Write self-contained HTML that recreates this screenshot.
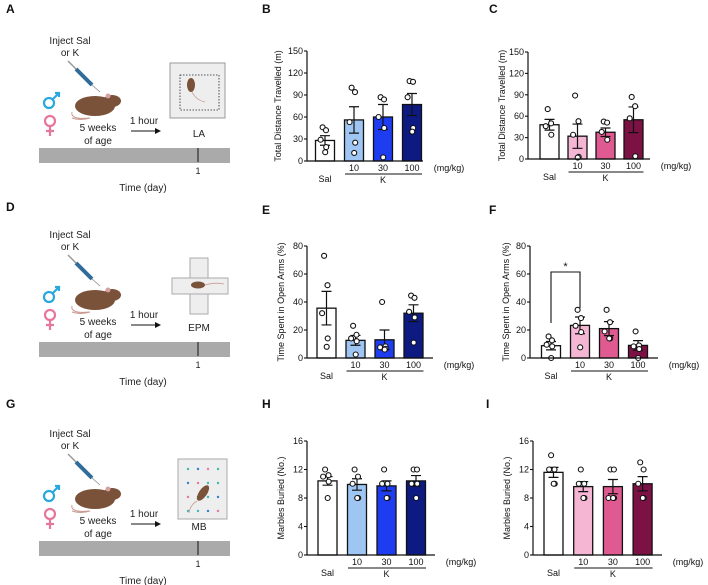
<!DOCTYPE html>
<html><head><meta charset="utf-8">
<style>
html,body{margin:0;padding:0;background:#fff;}
svg{display:block;font-family:"Liberation Sans",Arial,sans-serif;}
</style></head>
<body>
<svg id="fig" width="708" height="585" viewBox="0 0 708 585" xmlns="http://www.w3.org/2000/svg">
<g id="schem"></g>
<g id="charts"></g>
</svg>
<script>
// ---- data ----
const groups = ["Sal","10","30","100"];
const bMeans = [28,56,60,77];
const bSems = [6.5,18,17,15];
const bPoints = [[46,42,29,19,12],[100,94,53,25,11],[87,84,60,45,5],[109,108,87,45,40]];
const cMeans = [48,32,37.5,55];
const cSems = [7.5,17,6,18];
const cPoints = [[70,50,46,34],[89,53,34,3,2],[52.5,51,38,27],[87,74,57,4]];
const eMeans = [35.6,12.6,13,32];
const eSems = [12,3.5,7,6];
const ePoints = [[73,52,32,14,8],[23,16.6,14,12,2.5],[40,8.3,7.6,6.6,6],[44.6,43,33,29,11]];
const fMeans = [8.8,23.3,21,9];
const fSems = [3,6,5,3.4];
const fPoints = [[15.4,12.6,9.5,8.3,0],[34.4,28.5,23,18.5,7.6],[34.4,25.6,19,14,14],[19,9,8.3,6.4,0]];
const hMeans = [10.4,9.9,9.7,10.4];
const hSems = [0.6,0.8,0.7,0.75];
const hPoints = [[12,11.2,11,10.3,8],[12,11,10,8,8],[12,10,10,8,8],[12,12,10,10,8]];
const iMeans = [11.6,9.6,9.6,10];
const iSems = [0.7,0.7,1,1];
const iPoints = [[14,12,12,10,10],[12,10,10,8,8],[12,12,8,8,8],[13,12,10,8,8]];
const yTicksDist = [0,30,60,90,120,150];
const yTicksPct = [0,20,40,60,80];
const yTicksMB = [0,4,8,12,16];

const NS="http://www.w3.org/2000/svg";
function mk(tag,attrs,parent,txt){const e=document.createElementNS(NS,tag);for(const k in attrs)e.setAttribute(k,attrs[k]);if(txt!==undefined)e.textContent=txt;parent.appendChild(e);return e;}

const charts=document.getElementById('charts');
const blue=["#ffffff","#9fc6f2","#1f3df0","#0c1a82"];
const pink=["#ffffff","#f4b6d3","#df5a90","#7c1244"];

function panel(id,cfg,means,sems,points,ticks,colors,title,letter){
  const g=mk('g',{},charts);
  
  
  const yMax=ticks[ticks.length-1];
  const ys=v=>cfg.y0-(v/yMax)*(cfg.y0-cfg.yTop);
  const xs=i=>cfg.ax+cfg.first+i*cfg.sp;
  const L=mk('text',{x:cfg.letterX,y:cfg.letterY,'font-size':12,'font-weight':'bold',fill:'#111'},g,letter);
  
  
  const bw=19;
  means.forEach((m,i)=>{
    const r=mk('rect',{x:xs(i)-bw/2,y:ys(m),width:bw,height:cfg.y0-ys(m),fill:colors[i],stroke:'#111','stroke-width':1.3},g);
    
    
  });
  means.forEach((m,i)=>{
    const x=xs(i),t=ys(m+sems[i]),b=ys(m-sems[i]);
    const e=mk('path',{d:`M${x},${t}V${b}M${x-5},${t}H${x+5}M${x-5},${b}H${x+5}`,stroke:'#111','stroke-width':1.2,fill:'none'},g);
    
    
  });
  points.forEach((arr,i)=>{
    const n=arr.length;
    arr.forEach((v,j)=>{
      const off=(j%2===0?-1:1)*((j%3)*2.2);
      const c=mk('circle',{cx:xs(i)+off+(j-(n-1)/2)*1.2,cy:ys(v),r:2.5,fill:'#fff',stroke:'#111','stroke-width':1.1},g);
      
      
    });
  });
  const ax=mk('path',{d:`M${cfg.ax},${cfg.yTop}V${cfg.y0}H${cfg.xEnd}`,stroke:'#111','stroke-width':1.2,fill:'none'},g);
  
  
  ticks.forEach(t=>{
    mk('line',{x1:cfg.ax-3,x2:cfg.ax,y1:ys(t),y2:ys(t),stroke:'#111','stroke-width':1.1},g);
    const tl=mk('text',{x:cfg.ax-4,y:ys(t)+3,'font-size':9,'text-anchor':'end',fill:'#111'},g,String(t));
    
    
  });
  for(let i=1;i<4;i++){
    const xl=mk('text',{x:xs(i),y:cfg.y0+10,'font-size':9,'text-anchor':'middle',fill:'#111'},g,groups[i]);
    
    
  }
  const sl=mk('text',{x:xs(0),y:cfg.y0+21,'font-size':9,'text-anchor':'middle',fill:'#111'},g,'Sal');
  
  
  mk('line',{x1:xs(1)-9,x2:xs(3)+10,y1:cfg.y0+13,y2:cfg.y0+13,stroke:'#111','stroke-width':1.1},g);
  const kl=mk('text',{x:xs(2),y:cfg.y0+22,'font-size':9,'text-anchor':'middle',fill:'#111'},g,'K');
  
  
  const ul=mk('text',{x:cfg.xEnd+26,y:cfg.y0+10,'font-size':9,'text-anchor':'middle',fill:'#111'},g,'(mg/kg)');
  
  
  const tt=mk('text',{x:0,y:0,'font-size':9,'text-anchor':'middle',fill:'#111',transform:`translate(${cfg.titleX},${(cfg.yTop+cfg.y0)/2}) rotate(-90)`},g,title);
  
  
  return {g,xs,ys};
}

panel('b',{ax:307,y0:161,yTop:51,first:18,sp:29,xEnd:423,titleX:281,letterX:262,letterY:13},bMeans,bSems,bPoints,yTicksDist,blue,'Total Distance Travelled (m)','B');
panel('c',{ax:528,y0:159,yTop:52,first:21.5,sp:28,xEnd:650,titleX:505,letterX:489,letterY:13},cMeans,cSems,cPoints,yTicksDist,pink,'Total Distance Travelled (m)','C');
panel('e',{ax:307,y0:358,yTop:246,first:19.5,sp:29,xEnd:433,titleX:284,letterX:262,letterY:214},eMeans,eSems,ePoints,yTicksPct,blue,'Time Spent in Open Arms (%)','E');
const pf=panel('f',{ax:530,y0:358,yTop:246,first:21,sp:29,xEnd:658,titleX:509,letterX:489,letterY:214},fMeans,fSems,fPoints,yTicksPct,pink,'Time Spent in Open Arms (%)','F');
panel('h',{ax:307,y0:555,yTop:441,first:20.5,sp:29.5,xEnd:435,titleX:284,letterX:262,letterY:408},hMeans,hSems,hPoints,yTicksMB,blue,'Marbles Buried (No.)','H');
panel('i',{ax:533,y0:555,yTop:441,first:20.5,sp:29.7,xEnd:662,titleX:510,letterX:486,letterY:408},iMeans,iSems,iPoints,yTicksMB,pink,'Marbles Buried (No.)','I');

{
  const x1=pf.xs(0),x2=pf.xs(1);
  const br=mk('path',{d:`M${x1},323V272H${x2}V308`,stroke:'#111','stroke-width':1.1,fill:'none'},pf.g);
  
  
  const st=mk('text',{x:(x1+x2)/2,y:270,'font-size':11,'text-anchor':'middle',fill:'#111'},pf.g,'*');
  
  
}

const schem=document.getElementById('schem');
function schematic(oy,letter,label,kind){
  const g=mk('g',{transform:`translate(0,${oy})`},schem);
  
  
  const L=mk('text',{x:6,y:13+(letter==='A'?0:letter==='D'?4:2),'font-size':12,'font-weight':'bold',fill:'#111'},g,letter);
  
  
  mk('text',{x:70,y:44,'font-size':10,'text-anchor':'middle',fill:'#222'},g,'Inject Sal');
  mk('text',{x:70,y:56,'font-size':10,'text-anchor':'middle',fill:'#222'},g,'or K');
  mk('line',{x1:68,y1:61,x2:76,y2:69,stroke:'#999','stroke-width':1.5},g);
  mk('line',{x1:76,y1:69,x2:92,y2:85,stroke:'#2f6c9a','stroke-width':4},g);
  mk('line',{x1:92,y1:85,x2:100,y2:92,stroke:'#888','stroke-width':0.8},g);
  mk('circle',{cx:49,cy:103,r:5,fill:'none',stroke:'#2aa7dc','stroke-width':2.2},g);
  mk('path',{d:'M53,99L59,93M55,93H59V97',fill:'none',stroke:'#2aa7dc','stroke-width':2.2},g);
  mk('circle',{cx:50,cy:121,r:5,fill:'none',stroke:'#e7769e','stroke-width':2.2},g);
  mk('path',{d:'M50,126V136M46,131H54',fill:'none',stroke:'#e7769e','stroke-width':2.2},g);
  mk('path',{d:'M72,112 Q70,120 90,118 Q80,121 72,118',fill:'none',stroke:'#c99a92','stroke-width':1},g);
  mk('ellipse',{cx:95,cy:106,rx:20,ry:10,fill:'#7a5139'},g);
  mk('ellipse',{cx:112,cy:101,rx:9,ry:6,fill:'#7a5139'},g);
  mk('circle',{cx:108,cy:96,r:2.5,fill:'#d8a0a0'},g);
  mk('text',{x:98,y:131,'font-size':10,'text-anchor':'middle',fill:'#222'},g,'5 weeks');
  mk('text',{x:98,y:144,'font-size':10,'text-anchor':'middle',fill:'#222'},g,'of age');
  mk('text',{x:144,y:124,'font-size':10,'text-anchor':'middle',fill:'#222'},g,'1 hour');
  mk('path',{d:'M131,131H159',stroke:'#111','stroke-width':1},g);
  mk('path',{d:'M155,128L161,131L155,134Z',fill:'#111'},g);
  if(kind==='LA'){
    mk('rect',{x:170,y:63,width:55,height:55,fill:'#eeeeee',stroke:'#999','stroke-width':1},g);
    mk('rect',{x:180,y:75,width:39,height:35,fill:'none',stroke:'#222','stroke-width':0.8,'stroke-dasharray':'1.5,1.5'},g);
    mk('ellipse',{cx:191,cy:85,rx:4,ry:7,fill:'#7a5139'},g);
    mk('path',{d:'M192,92 Q196,100 205,102',fill:'none',stroke:'#c99a92','stroke-width':0.8},g);
  } else if(kind==='EPM'){
    mk('rect',{x:190,y:64,width:18,height:56,fill:'#eeeeee',stroke:'#aaa','stroke-width':1},g);
    mk('rect',{x:172,y:84,width:56,height:16,fill:'#eeeeee',stroke:'#aaa','stroke-width':1},g);
    mk('ellipse',{cx:198,cy:91,rx:7,ry:3.5,fill:'#7a5139'},g);
    mk('path',{d:'M205,91 Q215,88 224,90',fill:'none',stroke:'#c99a92','stroke-width':0.8},g);
  } else {
    mk('rect',{x:178,y:66,width:49,height:60,fill:'#eeeeee',stroke:'#aaa','stroke-width':1},g);
    const cols=['#3bb9b0','#2f7fd0','#e7769e','#3bb9b0'];
    for(let r=0;r<4;r++)for(let c=0;c<4;c++)mk('circle',{cx:188+c*10,cy:76+r*14,r:1.2,fill:cols[(r+c)%4]},g);
    mk('ellipse',{cx:203,cy:100,rx:4,ry:9,fill:'#7a5139',transform:'rotate(35 203 100)'},g);
    mk('path',{d:'M197,108 Q190,112 189,120',fill:'none',stroke:'#c99a92','stroke-width':0.8},g);
  }
  mk('text',{x:199,y:137,'font-size':10,'text-anchor':'middle',fill:'#222'},g,label);
  const bar=mk('rect',{x:39,y:148,width:191,height:15,fill:'#aaaaaa'},g);
  
  
  mk('line',{x1:198,y1:148,x2:198,y2:162,stroke:'#111','stroke-width':1},g);
  mk('text',{x:198,y:174,'font-size':9,'text-anchor':'middle',fill:'#222'},g,'1');
  mk('text',{x:143,y:191,'font-size':10,'text-anchor':'middle',fill:'#222'},g,'Time (day)');
}
schematic(0,'A','LA','LA');
schematic(194,'D','EPM','EPM');
schematic(393,'G','MB','MB');
</script>
</body></html>
